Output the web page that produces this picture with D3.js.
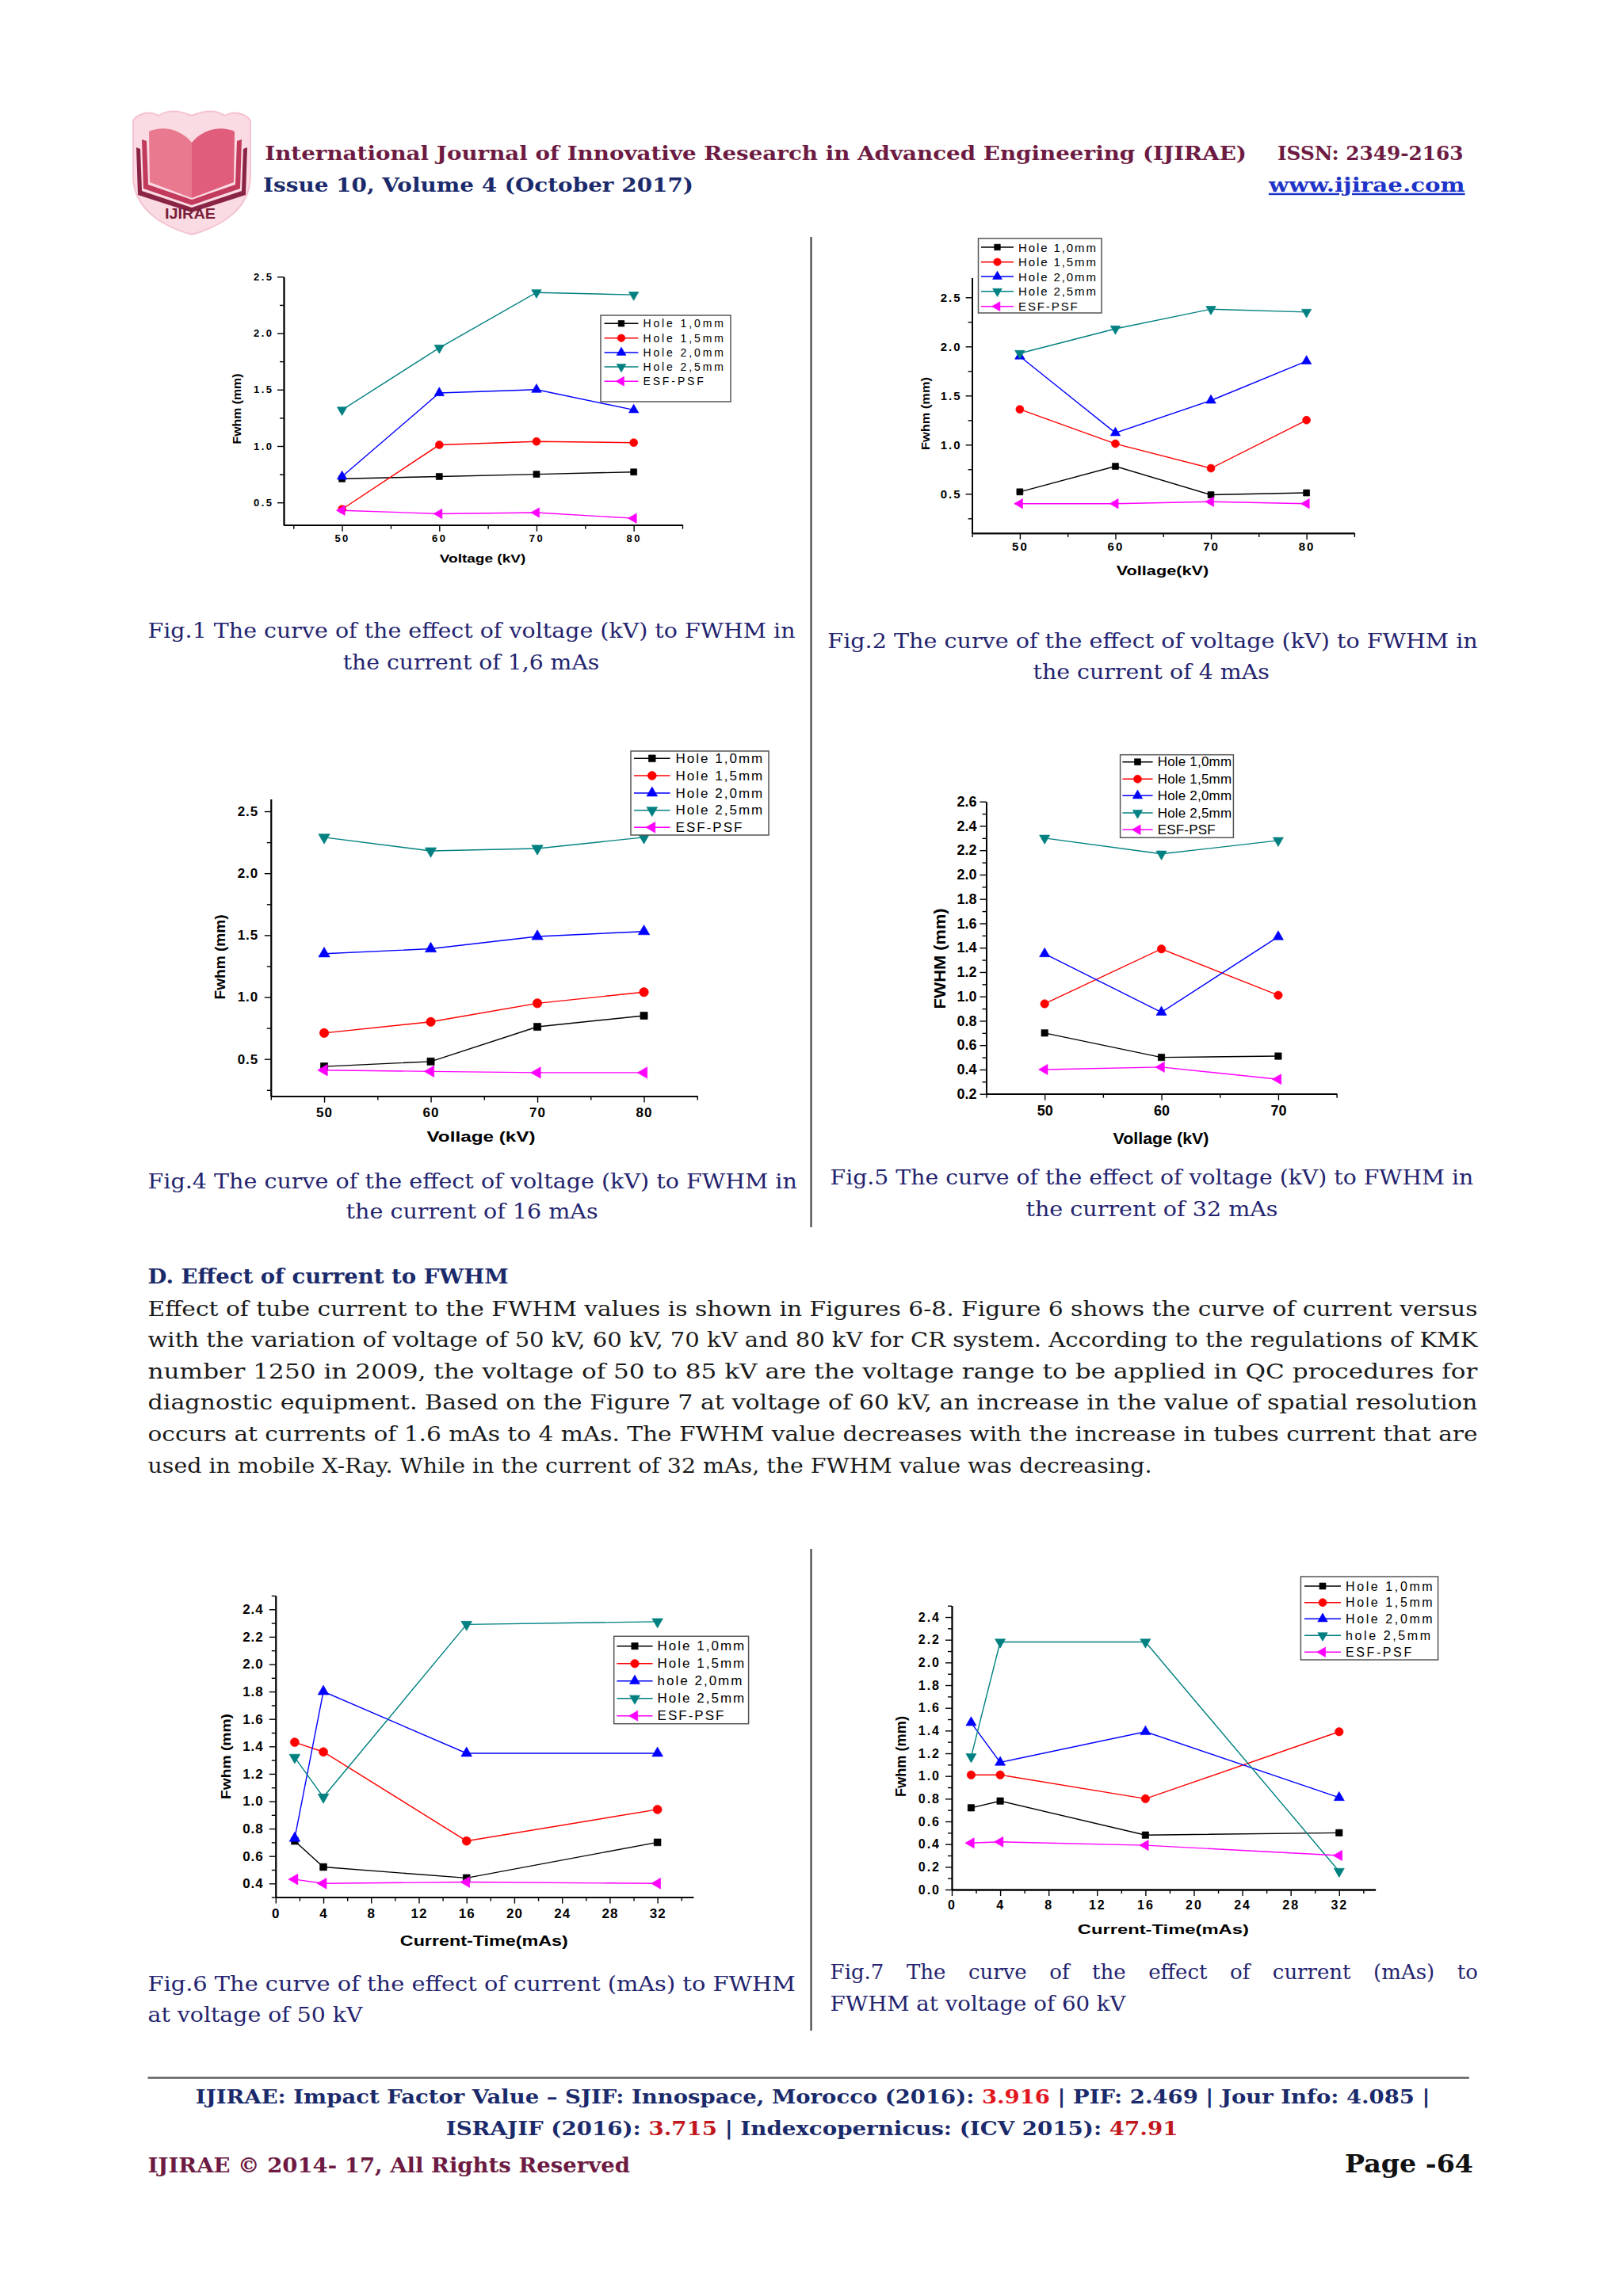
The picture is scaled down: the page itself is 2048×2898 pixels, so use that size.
<!DOCTYPE html>
<html>
<head>
<meta charset="utf-8">
<title>IJIRAE page 64 - FWHM curves</title>
<style>
  body { margin: 0; background: #fff; }
  svg { display: block; }
</style>
</head>
<body>
<svg id="page" width="2048" height="2898"></svg>

<script src="https://cdn.jsdelivr.net/npm/d3@7/dist/d3.min.js"></script>
<script>
// ---------- data ----------
const legendDefault = ["Hole 1,0mm", "Hole 1,5mm", "Hole 2,0mm", "Hole 2,5mm", "ESF-PSF"];
const legendFig6 = ["Hole 1,0mm", "Hole 1,5mm", "hole 2,0mm", "Hole 2,5mm", "ESF-PSF"];
const legendFig7 = ["Hole 1,0mm", "Hole 1,5mm", "Hole 2,0mm", "hole 2,5mm", "ESF-PSF"];

const voltage4 = [50, 60, 70, 80];
const voltage3 = [50, 60, 70];
const currentMAs = [1.6, 4, 16, 32];

// rows: hole 1.0, hole 1.5, hole 2.0, hole 2.5, ESF-PSF
const fig1Fwhm = [
  [0.71, 0.73, 0.75, 0.77],
  [0.44, 1.01, 1.04, 1.03],
  [0.73, 1.47, 1.50, 1.32],
  [1.32, 1.87, 2.36, 2.34],
  [0.43, 0.40, 0.41, 0.36]
];
const fig2Fwhm = [
  [0.52, 0.78, 0.49, 0.51],
  [1.36, 1.01, 0.76, 1.25],
  [1.90, 1.12, 1.45, 1.85],
  [1.93, 2.18, 2.38, 2.35],
  [0.40, 0.40, 0.42, 0.40]
];
const fig4Fwhm = [
  [0.44, 0.48, 0.76, 0.85],
  [0.71, 0.80, 0.95, 1.04],
  [1.35, 1.39, 1.49, 1.53],
  [2.29, 2.18, 2.20, 2.29],
  [0.41, 0.40, 0.39, 0.39]
];
const fig5Fwhm = [
  [0.70, 0.50, 0.51],
  [0.94, 1.39, 1.01],
  [1.35, 0.87, 1.49],
  [2.30, 2.17, 2.28],
  [0.40, 0.42, 0.32]
];
const fig6Fwhm = [
  [0.71, 0.52, 0.44, 0.70],
  [1.43, 1.36, 0.71, 0.94],
  [0.73, 1.80, 1.35, 1.35],
  [1.32, 1.03, 2.29, 2.31],
  [0.43, 0.40, 0.41, 0.40]
];
const fig7Fwhm = [
  [0.72, 0.78, 0.48, 0.50],
  [1.01, 1.01, 0.80, 1.39],
  [1.47, 1.12, 1.39, 0.81],
  [1.17, 2.18, 2.18, 0.16],
  [0.41, 0.42, 0.39, 0.30]
];

// tick labels
const voltageTicks4 = [50, 60, 70, 80];
const voltageMinor4 = [45, 55, 65, 75, 85];
const voltageTicks3 = [50, 60, 70];
const voltageMinor3 = [45, 55, 65, 75];
const currentTicks = [0, 4, 8, 12, 16, 20, 24, 28, 32];
const currentMinor = [2, 6, 10, 14, 18, 22, 26, 30, 34];
const halfTicks = [0.5, 1.0, 1.5, 2.0, 2.5];
const halfMinorFig1 = [0.75, 1.25, 1.75, 2.25];
const halfMinor = [0.25, 0.75, 1.25, 1.75, 2.25];
const fig5YTicks = [0.2, 0.4, 0.6, 0.8, 1.0, 1.2, 1.4, 1.6, 1.8, 2.0, 2.2, 2.4, 2.6];
const fig5YMinor = [0.3, 0.5, 0.7, 0.9, 1.1, 1.3, 1.5, 1.7, 1.9, 2.1, 2.3, 2.5];
const fig6YTicks = [0.4, 0.6, 0.8, 1.0, 1.2, 1.4, 1.6, 1.8, 2.0, 2.2, 2.4];
const fig6YMinor = [0.3, 0.5, 0.7, 0.9, 1.1, 1.3, 1.5, 1.7, 1.9, 2.1, 2.3, 2.5];
const fig7YTicks = [0.0, 0.2, 0.4, 0.6, 0.8, 1.0, 1.2, 1.4, 1.6, 1.8, 2.0, 2.2, 2.4];
const fig7YMinor = [0.1, 0.3, 0.5, 0.7, 0.9, 1.1, 1.3, 1.5, 1.7, 1.9, 2.1, 2.3, 2.5];

// ---------- styles ----------
const SANS = "'Liberation Sans', Arial, sans-serif";
const SERIF = "'DejaVu Serif', 'Liberation Serif', serif";
const seriesColors = ["#000000", "#ff0000", "#0000ff", "#008080", "#ff00ff"];
const markerShapes = [d3.symbolSquare, d3.symbolCircle, d3.symbolTriangle, d3.symbolTriangle, d3.symbolTriangle];
const markerRotate = [0, 0, 0, 180, -90];
const MAROON = "#6d1b42", NAVY = "#1b2a6b", CAPTION = "#23236e", BODY = "#1a1a1a";

const svg = d3.select("#page");

// ---------- panel layout ----------
const panels = [
  { id: "fig1", xs: voltage4, ys: fig1Fwhm, names: legendDefault,
    xDomain: [44, 85], yDomain: [0.3, 2.5], left: 358, right: 861, top: 349.3, bottom: 662.7,
    xTicks: voltageTicks4, xMinor: voltageMinor4, yTicks: halfTicks, yMinor: halfMinorFig1,
    tickFont: 13, tickLs: 2.5, xPad: 3.6, yPad: 4.5, ms: 10,
    xTitle: { text: "Voltage (kV)", x: 609, y: 705, size: 14, len: 108.5 },
    yTitle: { text: "Fwhm (mm)", x: 299, y: 516, size: 14, len: 89 },
    legend: { x0: 758, y0: 398, x1: 922, y1: 507, lineX0: 762.6, lineX1: 805.4, textX: 811.4,
      rows: [408.3, 426.7, 445, 463, 481.3], size: 14, ls: 2.9 } },
  { id: "fig2", xs: voltage4, ys: fig2Fwhm, names: legendDefault,
    xDomain: [45, 85], yDomain: [0.1, 2.7], left: 1226.6, right: 1708.9, top: 350.5, bottom: 672.9,
    xTicks: voltageTicks4, xMinor: voltageMinor4, yTicks: halfTicks, yMinor: halfMinor,
    tickFont: 15, tickLs: 2, xPad: 3.9, yPad: 5, ms: 10,
    xTitle: { text: "Vollage(kV)", x: 1467, y: 720, size: 16, len: 116.7 },
    yTitle: { text: "Fwhm (mm)", x: 1167, y: 522, size: 15, len: 92 },
    legend: { x0: 1234.5, y0: 301, x1: 1390, y1: 395, lineX0: 1238, lineX1: 1279, textX: 1285,
      rows: [312, 330.7, 349, 367.7, 386.7], size: 15, ls: 1.9 } },
  { id: "fig4", xs: voltage4, ys: fig4Fwhm, names: legendDefault,
    xDomain: [45, 85], yDomain: [0.2, 2.6], left: 341.8, right: 879.8, top: 1008.4, bottom: 1383.6,
    xTicks: voltageTicks4, xMinor: voltageMinor4, yTicks: halfTicks, yMinor: halfMinor,
    tickFont: 17, tickLs: 1, xPad: 5.9, yPad: 7.5, ms: 11.5,
    xTitle: { text: "Vollage (kV)", x: 607, y: 1435, size: 18, len: 137 },
    yTitle: { text: "Fwhm (mm)", x: 278, y: 1208, size: 18, len: 107 },
    legend: { x0: 796, y0: 948, x1: 970, y1: 1054, lineX0: 800, lineX1: 845.6, textX: 852.6,
      rows: [957.3, 979, 1001, 1022.7, 1044.3], size: 17, ls: 2 } },
  { id: "fig5", xs: voltage3, ys: fig5Fwhm, names: legendDefault,
    xDomain: [45, 75], yDomain: [0.2, 2.6], left: 1244.5, right: 1686.6, top: 1011.7, bottom: 1380.7,
    xTicks: voltageTicks3, xMinor: voltageMinor3, yTicks: fig5YTicks, yMinor: fig5YMinor,
    tickFont: 18, tickLs: 0, xPad: 6.5, yPad: 4, ms: 10.5,
    xTitle: { text: "Vollage (kV)", x: 1465, y: 1437, size: 20, len: 121 },
    yTitle: { text: "FWHM (mm)", x: 1185.7, y: 1210, size: 20, len: 127 },
    legend: { x0: 1413.6, y0: 952.7, x1: 1556.4, y1: 1057.3, lineX0: 1416.4, lineX1: 1454.6, textX: 1460.7,
      rows: [961.7, 983.3, 1004.3, 1026, 1047.3], size: 17, ls: 0.2 } },
  { id: "fig6", xs: currentMAs, ys: fig6Fwhm, names: legendFig6,
    xDomain: [0, 35], yDomain: [0.3, 2.5], left: 347.8, right: 874.8, top: 2014, bottom: 2394.6,
    xTicks: currentTicks, xMinor: currentMinor, yTicks: fig6YTicks, yMinor: fig6YMinor,
    tickFont: 17, tickLs: 1, xPad: 6.6, yPad: 7, ms: 11,
    xTitle: { text: "Current-Time(mAs)", x: 610.8, y: 2450, size: 18, len: 212 },
    yTitle: { text: "Fwhm (mm)", x: 285, y: 2217, size: 17, len: 108 },
    legend: { x0: 774.7, y0: 2065.3, x1: 944.6, y1: 2175.7, lineX0: 778.4, lineX1: 823.6, textX: 829.6,
      rows: [2077.7, 2099.7, 2121.7, 2143.7, 2165.7], size: 17, ls: 2 } },
  { id: "fig7", xs: currentMAs, ys: fig7Fwhm, names: legendFig7,
    xDomain: [0, 35], yDomain: [0, 2.5], left: 1201, right: 1735.6, top: 2026.7, bottom: 2385,
    xTicks: currentTicks, xMinor: currentMinor, yTicks: fig7YTicks, yMinor: fig7YMinor,
    tickFont: 16, tickLs: 2, xPad: 5.2, yPad: 6, ms: 10.5,
    xTitle: { text: "Current-Time(mAs)", x: 1467.8, y: 2435, size: 16, len: 216 },
    yTitle: { text: "Fwhm (mm)", x: 1137, y: 2217, size: 18, len: 102 },
    legend: { x0: 1641.4, y0: 1990, x1: 1814.6, y1: 2095, lineX0: 1646, lineX1: 1692, textX: 1698,
      rows: [2002, 2022.7, 2043.3, 2064.3, 2085.3], size: 16, ls: 2.6 } }
];

function markerPath(i, ms) {
  let size;
  if (i === 0) size = Math.pow(0.8 * ms, 2);
  else if (i === 1) size = Math.PI * Math.pow(ms / 2, 2);
  else size = Math.sqrt(3) / 4 * Math.pow(1.25 * ms, 2);
  return d3.symbol().type(markerShapes[i]).size(size)();
}

function drawMarker(g, i, cx, cy, ms) {
  g.append("path")
    .attr("d", markerPath(i, ms))
    .attr("transform", `translate(${cx},${cy}) rotate(${markerRotate[i]})`)
    .attr("fill", seriesColors[i])
    .attr("stroke", seriesColors[i])
    .attr("stroke-width", 0.6);
}

function drawPanel(p) {
  const g = svg.append("g").attr("class", p.id);
  const x = d3.scaleLinear().domain(p.xDomain).range([p.left, p.right]);
  const y = d3.scaleLinear().domain(p.yDomain).range([p.bottom, p.top]);

  const styleAxis = a => {
    a.attr("font-family", SANS).attr("font-size", p.tickFont).attr("font-weight", "bold");
    a.select(".domain").attr("stroke", "#000").attr("stroke-width", 1.8);
    a.selectAll(".tick line").attr("stroke", "#000").attr("stroke-width", 1.4);
    a.selectAll(".tick text").attr("fill", "#000").style("letter-spacing", p.tickLs + "px");
  };

  // x axis
  g.append("g").attr("transform", `translate(0,${p.bottom})`)
    .call(d3.axisBottom(x).tickValues(p.xMinor).tickSize(5).tickSizeOuter(0).tickFormat(""))
    .call(styleAxis);
  g.append("g").attr("transform", `translate(0,${p.bottom})`)
    .call(d3.axisBottom(x).tickValues(p.xTicks).tickSize(8).tickSizeOuter(0)
      .tickPadding(p.xPad).tickFormat(d3.format("d")))
    .call(styleAxis);

  // y axis
  g.append("g").attr("transform", `translate(${p.left},0)`)
    .call(d3.axisLeft(y).tickValues(p.yMinor).tickSize(5).tickSizeOuter(0).tickFormat(""))
    .call(styleAxis);
  g.append("g").attr("transform", `translate(${p.left},0)`)
    .call(d3.axisLeft(y).tickValues(p.yTicks).tickSize(8).tickSizeOuter(0)
      .tickPadding(p.yPad).tickFormat(d3.format(".1f")))
    .call(styleAxis);

  // axis titles
  g.append("text")
    .attr("x", p.xTitle.x).attr("y", p.xTitle.y)
    .attr("text-anchor", "middle").attr("dominant-baseline", "central")
    .attr("font-family", SANS).attr("font-weight", "bold").attr("font-size", p.xTitle.size)
    .attr("textLength", p.xTitle.len).attr("lengthAdjust", "spacingAndGlyphs")
    .text(p.xTitle.text);
  g.append("text")
    .attr("transform", `translate(${p.yTitle.x},${p.yTitle.y}) rotate(-90)`)
    .attr("text-anchor", "middle").attr("dominant-baseline", "central")
    .attr("font-family", SANS).attr("font-weight", "bold").attr("font-size", p.yTitle.size)
    .attr("textLength", p.yTitle.len).attr("lengthAdjust", "spacingAndGlyphs")
    .text(p.yTitle.text);

  // series
  const line = d3.line().x(d => x(d[0])).y(d => y(d[1]));
  p.ys.forEach((vals, i) => {
    const pts = vals.map((v, k) => [p.xs[k], v]);
    g.append("path").attr("d", line(pts))
      .attr("fill", "none").attr("stroke", seriesColors[i]).attr("stroke-width", 1.4);
  });
  p.ys.forEach((vals, i) => {
    vals.forEach((v, k) => drawMarker(g, i, x(p.xs[k]), y(v), p.ms));
  });

  // legend
  const L = p.legend;
  const lg = g.append("g");
  lg.append("rect")
    .attr("x", L.x0).attr("y", L.y0).attr("width", L.x1 - L.x0).attr("height", L.y1 - L.y0)
    .attr("fill", "#fff").attr("stroke", "#555").attr("stroke-width", 1.5);
  p.names.forEach((name, i) => {
    const ry = L.rows[i];
    lg.append("line")
      .attr("x1", L.lineX0).attr("x2", L.lineX1).attr("y1", ry).attr("y2", ry)
      .attr("stroke", seriesColors[i]).attr("stroke-width", 1.4);
    drawMarker(lg, i, (L.lineX0 + L.lineX1) / 2, ry, p.ms * 0.95);
    lg.append("text")
      .attr("x", L.textX).attr("y", ry).attr("dominant-baseline", "central")
      .attr("font-family", SANS).attr("font-size", L.size)
      .style("letter-spacing", L.ls + "px")
      .text(name);
  });
}

panels.forEach(drawPanel);

// ---------- page text ----------
function putText(o) {
  const t = svg.append("text")
    .attr("x", o.x).attr("y", o.y)
    .attr("font-family", SERIF).attr("font-size", o.size)
    .attr("font-weight", o.weight || "normal")
    .attr("fill", o.fill || BODY)
    .attr("text-anchor", o.anchor || "start");
  if (o.parts) {
    o.parts.forEach(pt => t.append("tspan").attr("fill", pt[1]).text(pt[0]));
  } else {
    t.text(o.text);
  }
  if (o.justify) {
    // widen the gaps between words, as a justified line does
    const natural = t.node().getComputedTextLength();
    const gaps = (o.text.match(/ /g) || []).length;
    t.attr("word-spacing", Math.max(0, (o.len - natural) / gaps));
  } else if (o.len) {
    t.attr("textLength", o.len).attr("lengthAdjust", o.adjust || "spacingAndGlyphs");
  }
  if (o.underline) t.attr("text-decoration", "underline");
  return t;
}

// header logo (simplified shield with open book)
const logo = svg.append("g");
logo.append("path")
  .attr("d", "M168,152 C175,142 190,140 200,146 C212,138 228,140 242,146 C256,140 272,138 284,146 C294,140 309,142 316,152 L316,222 C316,262 282,285 242,296 C202,285 168,262 168,222 Z")
  .attr("fill", "#fbdbe3").attr("stroke", "#f4c3cf").attr("stroke-width", 2);
logo.append("path").attr("d", "M242,268 L174,246 L172,186 L177,188 L179,241 L242,262 Z").attr("fill", "#8a2444");
logo.append("path").attr("d", "M242,268 L310,246 L312,186 L307,188 L305,241 L242,262 Z").attr("fill", "#8a2444");
logo.append("path").attr("d", "M242,259 L181,238 L179,176 L185,178 L187,233 L242,252 Z").attr("fill", "#c23a5c");
logo.append("path").attr("d", "M242,259 L303,238 L305,176 L299,178 L297,233 L242,252 Z").attr("fill", "#c23a5c");
logo.append("path").attr("d", "M242,250 L189,230 L188,166 C206,158 228,163 242,180 Z").attr("fill", "#e9798f");
logo.append("path").attr("d", "M242,250 L295,230 L296,166 C278,158 256,163 242,180 Z").attr("fill", "#e05d7c");
logo.append("text")
  .attr("x", 240).attr("y", 276).attr("text-anchor", "middle")
  .attr("font-family", SANS).attr("font-weight", "bold").attr("font-size", 19)
  .attr("fill", "#7a1f3a").attr("textLength", 64).attr("lengthAdjust", "spacingAndGlyphs")
  .text("IJIRAE");

putText({ x: 334.2, y: 201.7, size: 25, weight: "bold", fill: MAROON, len: 1238.8,
  text: "International Journal of Innovative Research in Advanced Engineering (IJIRAE)" });
putText({ x: 1612, y: 201.7, size: 25, weight: "bold", fill: MAROON, len: 234.4, text: "ISSN: 2349-2163" });
putText({ x: 332, y: 241.7, size: 25, weight: "bold", fill: NAVY, len: 543,
  text: "Issue 10, Volume 4 (October 2017)" });
putText({ x: 1600.9, y: 241.7, size: 25, weight: "bold", fill: "#1f35c8", len: 247.7,
  text: "www.ijirae.com", underline: true });

// column dividers
svg.append("line").attr("x1", 1023.5).attr("x2", 1023.5).attr("y1", 299).attr("y2", 1549)
  .attr("stroke", "#333").attr("stroke-width", 2);
svg.append("line").attr("x1", 1023.5).attr("x2", 1023.5).attr("y1", 1955).attr("y2", 2563)
  .attr("stroke", "#333").attr("stroke-width", 2);

// figure captions
putText({ x: 186.5, y: 805, size: 26, fill: CAPTION, len: 817,
  text: "Fig.1  The curve of the effect of voltage (kV) to FWHM in" });
putText({ x: 594.5, y: 845, size: 26, fill: CAPTION, len: 323.6, anchor: "middle",
  text: "the current of 1,6 mAs" });
putText({ x: 1044.3, y: 818, size: 26, fill: CAPTION, len: 820.5,
  text: "Fig.2  The curve of the effect of voltage (kV) to FWHM in" });
putText({ x: 1452.7, y: 857, size: 26, fill: CAPTION, len: 298.4, anchor: "middle",
  text: "the current of 4 mAs" });
putText({ x: 186.5, y: 1500, size: 26, fill: CAPTION, len: 819.4,
  text: "Fig.4  The curve of the effect of voltage (kV) to FWHM in" });
putText({ x: 595.6, y: 1538, size: 26, fill: CAPTION, len: 318, anchor: "middle",
  text: "the current of 16 mAs" });
putText({ x: 1047.6, y: 1495, size: 26, fill: CAPTION, len: 811.7,
  text: "Fig.5 The curve of the effect of voltage (kV) to FWHM in" });
putText({ x: 1453.5, y: 1535, size: 26, fill: CAPTION, len: 318, anchor: "middle",
  text: "the current of 32 mAs" });

// section text
putText({ x: 186.5, y: 1620, size: 26, weight: "bold", fill: NAVY, len: 455.2,
  text: "D.  Effect of current to FWHM" });
const paragraphLines = [
  "Effect of tube current to the FWHM values is shown in Figures 6-8. Figure 6 shows the curve of current versus",
  "with the variation of voltage of 50 kV, 60 kV, 70 kV and 80 kV for CR system. According to the regulations of KMK",
  "number 1250 in 2009, the voltage of 50 to 85 kV are the voltage range to be applied in QC procedures for",
  "diagnostic equipment. Based on the Figure 7 at voltage of 60 kV, an increase in the value of spatial resolution",
  "occurs at currents of 1.6 mAs to 4 mAs. The FWHM value decreases with the increase in tubes current that are",
  "used in mobile X-Ray. While in the current of 32 mAs, the FWHM value was decreasing."
];
paragraphLines.forEach((t, i) => {
  const last = i === paragraphLines.length - 1;
  putText({ x: 186.5, y: 1660.5 + i * 39.6, size: 26, fill: BODY,
    len: last ? 1267 : 1678, adjust: "spacingAndGlyphs", text: t });
});

putText({ x: 186.5, y: 2513.3, size: 26, fill: CAPTION, len: 817.2,
  text: "Fig.6  The curve of the effect of current (mAs) to FWHM" });
putText({ x: 186.5, y: 2551.7, size: 26, fill: CAPTION, len: 271, text: "at voltage of 50 kV" });
putText({ x: 1047.6, y: 2498.3, size: 26, fill: CAPTION, len: 817.2, justify: true,
  text: "Fig.7 The curve of the effect of current (mAs) to" });
putText({ x: 1047.6, y: 2538.3, size: 26, fill: CAPTION, len: 373, text: "FWHM at voltage of 60 kV" });

// footer
svg.append("line").attr("x1", 186.5).attr("x2", 1853.8).attr("y1", 2622.7).attr("y2", 2622.7)
  .attr("stroke", "#555").attr("stroke-width", 2.2);
putText({ x: 246.8, y: 2655, size: 25, weight: "bold", len: 1557.7, parts: [
  ["IJIRAE: Impact Factor Value \u2013 SJIF: Innospace, Morocco (2016): ", NAVY],
  ["3.916", "#e3161e"],
  [" | PIF: 2.469 | Jour Info: 4.085 |", NAVY]
] });
putText({ x: 562.7, y: 2695, size: 25, weight: "bold", len: 923.7, parts: [
  ["ISRAJIF (2016): ", NAVY],
  ["3.715", "#c0181e"],
  [" | Indexcopernicus: (ICV 2015): ", NAVY],
  ["47.91", "#c0181e"]
] });
putText({ x: 186.5, y: 2741.7, size: 26, weight: "bold", fill: MAROON, len: 608.5,
  text: "IJIRAE \u00a9 2014- 17, All Rights Reserved" });
putText({ x: 1697, y: 2741.7, size: 32, weight: "bold", fill: "#111", len: 162, text: "Page -64" });
</script>
</body>
</html>
